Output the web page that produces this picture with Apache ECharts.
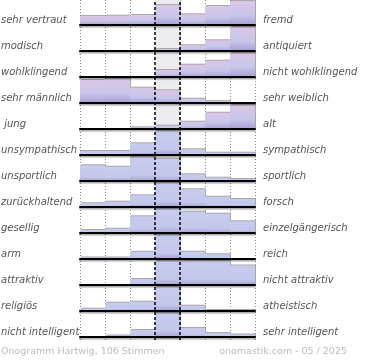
<!DOCTYPE html>
<html><head><meta charset="utf-8">
<script src="https://cdn.jsdelivr.net/npm/echarts@6/dist/echarts.min.js"></script>
<style>html,body{margin:0;padding:0;background:#fff}#c{width:370px;height:360px}</style>
</head><body><div id="c"></div>
<script>
const leftLabels = ["sehr vertraut","modisch","wohlklingend","sehr männlich"," jung","unsympathisch","unsportlich","zurückhaltend","gesellig","arm","attraktiv","religiös","nicht intelligent"];
const rightLabels = ["fremd","antiquiert","nicht wohlklingend","sehr weiblich","alt","sympathisch","sportlich","forsch","einzelgängerisch","reich","nicht attraktiv","atheistisch","sehr intelligent"];
const columns = ["1","2","3","4","5","6","7"];
const row0 = [9, 9.3, 10, 20, 10.7, 19, 24];
const row1 = [0, 0, 0, 2, 5.7, 10.7, 24];
const row2 = [0, 0, 0, 7, 12.3, 16.3, 24];
const row3 = [23, 24, 15.3, 12.7, 4.3, 2, 0];
const row4 = [0, 0, 1.7, 3.3, 7.3, 16.3, 24];
const row5 = [4, 4, 11.7, 24, 5.7, 2.3, 2.3];
const row6 = [15.7, 14.3, 24, 22, 6.7, 3.3, 2];
const row7 = [3.7, 5.3, 11.7, 24, 17.7, 10.3, 8];
const row8 = [3, 4.3, 16.7, 24, 21.3, 19.3, 11.7];
const row9 = [1.5, 1.5, 7.3, 24, 7.3, 4.7, 0];
const row10 = [0, 0, 6, 24, 24, 24, 19.5];
const row11 = [2.3, 8.3, 9.3, 24, 5.3, 1, 1];
const row12 = [0, 1.5, 7, 24, 9, 4, 2.5];
const rows = [row0,row1,row2,row3,row4,row5,row6,row7,row8,row9,row10,row11,row12];
const footerLeft = "Onogramm Hartwig, 106 Stimmen";
const footerRight = "onomastik.com - 05 / 2025";

const chart = echarts.init(document.getElementById('c'), null, {renderer:'canvas'});
const ROWH = 26, GL = 80, GW = 175, BH = 24, TOP0 = 1;
const grids = [], xAxes = [], yAxes = [], series = [], graphics = [];

// background grid
grids.push({left: GL, width: GW, top: 0, height: 340});
xAxes.push({gridIndex: 0, type: 'value', min: 0, max: 7, interval: 1,
  axisLine: {show: false}, axisTick: {show: false}, axisLabel: {show: false},
  splitLine: {show: true, lineStyle: {color: '#888', type: [1, 2], width: 1}}});
yAxes.push({gridIndex: 0, type: 'value', min: 0, max: 1, show: false, splitLine: {show: false}});
series.push({type: 'line', xAxisIndex: 0, yAxisIndex: 0, data: [], z: 0, silent: true,
  markArea: {silent: true, itemStyle: {color: '#ececef'}, data: [[{xAxis: 3}, {xAxis: 4}]]}});
series.push({type: 'line', xAxisIndex: 0, yAxisIndex: 0, data: [], z: 20, silent: true,
  markLine: {silent: true, symbol: 'none', label: {show: false},
    lineStyle: {color: '#000', type: [3, 2], width: 1.5}, data: [{xAxis: 3}, {xAxis: 4}]}});

const pinkGrad = {type: 'linear', x: 0, y: 0, x2: 0, y2: 1, colorStops: [
  {offset: 0, color: '#dcc6e6'}, {offset: 0.6, color: '#c6c6ea'}, {offset: 1, color: '#a99ed3'}]};
const blueGrad = {type: 'linear', x: 0, y: 0, x2: 0, y2: 1, colorStops: [
  {offset: 0, color: '#c7cdee'}, {offset: 0.75, color: '#c3c7eb'}, {offset: 1, color: '#aaa2d4'}]};

rows.forEach((vals, i) => {
  const gi = i + 1;
  const top = TOP0 + ROWH * i;
  const base = top + BH;
  grids.push({left: GL, width: GW, top: top, height: BH});
  xAxes.push({gridIndex: gi, type: 'category', data: columns, boundaryGap: true,
    axisLine: {show: true, lineStyle: {color: '#000', width: 2, shadowColor: 'rgba(0,0,0,0.35)', shadowOffsetY: 1.5, shadowBlur: 1}},
    axisTick: {show: false}, axisLabel: {show: false}, splitLine: {show: false}, z: 5});
  yAxes.push({gridIndex: gi, type: 'value', min: 0, max: Math.max.apply(null, vals), show: false, splitLine: {show: false}});
  series.push({type: 'bar', xAxisIndex: gi, yAxisIndex: gi, data: vals, barCategoryGap: '0%', barGap: '0%', z: 2,
    itemStyle: {color: i < 5 ? pinkGrad : blueGrad, shadowColor: '#a8a8a8', shadowOffsetX: 1, shadowOffsetY: -1, shadowBlur: 0}});
  graphics.push({type: 'text', left: 1, top: base - 10,
    style: {text: leftLabels[i], fill: '#555', font: 'italic 10px "DejaVu Sans"'}});
  graphics.push({type: 'text', left: 263, top: base - 10,
    style: {text: rightLabels[i], fill: '#555', font: 'italic 10px "DejaVu Sans"'}});
});
graphics.push({type: 'text', left: 1, top: 347, style: {text: footerLeft, fill: '#bbb', font: '9.5px "DejaVu Sans"'}});
graphics.push({type: 'text', right: 23, top: 347, style: {text: footerRight, fill: '#bbb', font: '9.5px "DejaVu Sans"'}});

chart.setOption({animation: false, grid: grids, xAxis: xAxes, yAxis: yAxes, series: series, graphic: graphics});
</script></body></html>
